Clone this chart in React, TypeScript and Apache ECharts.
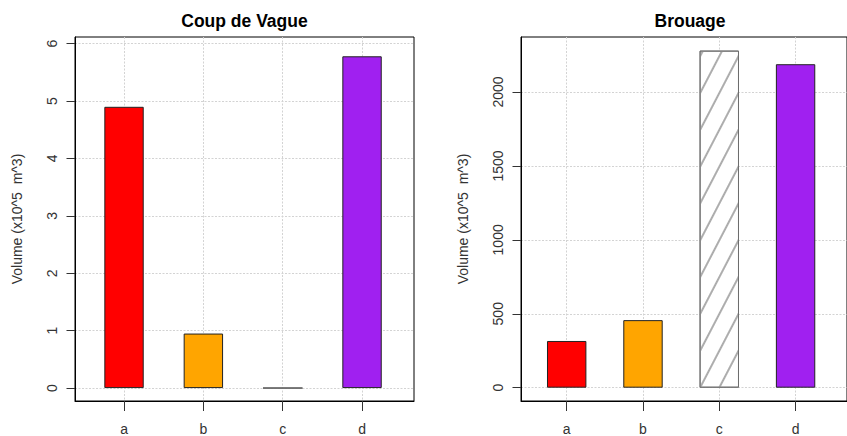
import React, { useEffect, useRef } from "react";
import * as echarts from "echarts";

const categories = ["a", "b", "c", "d"];
const coupValues = [4.9, 0.95, 0, 5.78];
const brouageValues = [316, 457, 2280, 2188];
const barColors = ["#FF0000", "#FFA500", "hatch", "#A020F0"];
const coupTicks = [0, 1, 2, 3, 4, 5, 6];
const brouageTicks = [0, 500, 1000, 1500, 2000];
const titles = ["Coup de Vague", "Brouage"];
const yName = "Volume (x10^5  m^3)";

const FONT = "'Liberation Sans', Arial, Helvetica, sans-serif";
const catIdx = categories.map((_, i) => i);
const yTickSets = [coupTicks, brouageTicks];

const X_RANGES = [
  [-0.618, 3.655],
  [-0.599, 3.674],
];
const Y_RANGES = [
  [-0.225, 6.116],
  [-90, 2372],
];

const hatchStyle = {
  color: "#ffffff",
  borderColor: "#6e6e6e",
  borderWidth: 1,
  decal: {
    symbol: "rect",
    symbolSize: 1,
    color: "#adadad",
    dashArrayX: [1, 0],
    dashArrayY: [1.1, 14.9],
    rotation: (-62.5 * Math.PI) / 180,
  },
};

function barData(values: number[]) {
  return values.map((v, i) => ({
    value: [i, v],
    itemStyle:
      barColors[i] === "hatch"
        ? hatchStyle
        : { color: barColors[i], borderColor: "#222222", borderWidth: 1 },
  }));
}

function xAxisCfg(gridIndex: number) {
  const [min, max] = X_RANGES[gridIndex];
  return {
    type: "value",
    gridIndex,
    min,
    max,
    axisLine: { show: true, onZero: false, lineStyle: { color: "#000", width: 1 } },
    axisTick: {
      show: true,
      inside: false,
      customValues: catIdx,
      length: 10,
      lineStyle: { color: "#333", width: 1 },
    },
    axisLabel: {
      show: true,
      customValues: catIdx,
      formatter: (v: number) => categories[Math.round(v)] ?? "",
      margin: 21,
      fontSize: 14,
      color: "#333",
      fontFamily: FONT,
    },
    splitLine: {
      show: true,
      lineStyle: { color: "#d3d3d3", type: [2, 1.5], width: 1 },
    },
  };
}

function yAxisCfg(gridIndex: number) {
  const [min, max] = Y_RANGES[gridIndex];
  const ticks = yTickSets[gridIndex];
  return {
    type: "value",
    gridIndex,
    min,
    max,
    name: yName,
    nameLocation: "middle",
    nameGap: 51,
    nameTextStyle: { fontSize: 14, color: "#333", fontFamily: FONT },
    axisLine: { show: true, onZero: false, lineStyle: { color: "#000", width: 1 } },
    axisTick: {
      show: true,
      inside: false,
      customValues: ticks,
      length: 8.5,
      lineStyle: { color: "#333", width: 1 },
    },
    axisLabel: {
      show: true,
      customValues: ticks,
      formatter: (v: number) => String(v),
      rotate: 90,
      margin: 16,
      fontSize: 14,
      color: "#333",
      fontFamily: FONT,
    },
    splitLine: {
      show: true,
      lineStyle: { color: "#d3d3d3", type: [2, 1.5], width: 1 },
    },
  };
}

function titleGraphics() {
  const centers = [244.5, 690];
  return titles.map((t, i) => ({
    type: "text",
    x: centers[i],
    y: 21.3,
    style: {
      text: t,
      align: "center",
      verticalAlign: "middle",
      font: `bold 17.5px ${FONT}`,
      fill: "#000",
    },
  }));
}

export default function App() {
  const ref = useRef<HTMLDivElement>(null);
  useEffect(() => {
    if (!ref.current) return;
    const chart = echarts.init(ref.current, null, { renderer: "svg" });
    const gridBase = {
      show: true,
      borderColor: "#000",
      borderWidth: 1,
      backgroundColor: "transparent",
      containLabel: false,
    };
    chart.setOption({
      animation: false,
      backgroundColor: "#ffffff",
      grid: [
        { ...gridBase, left: 75, top: 37, width: 339, height: 366 },
        { ...gridBase, left: 521, top: 37, width: 339, height: 366 },
      ],
      xAxis: [xAxisCfg(0), xAxisCfg(1)],
      yAxis: [yAxisCfg(0), yAxisCfg(1)],
      graphic: titleGraphics(),
      series: [
        {
          type: "bar",
          xAxisIndex: 0,
          yAxisIndex: 0,
          barWidth: 39.4,
          data: barData(coupValues),
        },
        {
          type: "bar",
          xAxisIndex: 1,
          yAxisIndex: 1,
          barWidth: 39.4,
          data: barData(brouageValues),
        },
      ],
    });
    return () => chart.dispose();
  }, []);
  return (
    <div
      ref={ref}
      style={{ position: "absolute", left: 0, top: 0, width: 847, height: 436 }}
    />
  );
}
